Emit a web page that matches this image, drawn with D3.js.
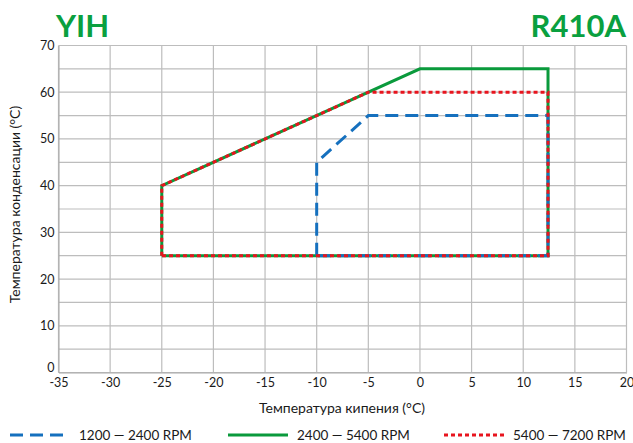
<!DOCTYPE html>
<html>
<head>
<meta charset="utf-8">
<script src="https://cdn.jsdelivr.net/npm/d3@7"></script>
<style>
body { margin: 0; background: #fff; }
text { font-family: Lato, "Open Sans", sans-serif; fill: #1a1a1a; }
</style>
</head>
<body>
<script>
// envelope data (evaporating temp, condensing temp)
var seriesNames = ["1200 — 2400 RPM", "2400 — 5400 RPM", "5400 — 7200 RPM"];
var seriesColors = ["#1570be", "#0a9a3c", "#e8141e"];
var lowRpm = [[-10, 25], [-10, 45], [-5, 55], [12.4, 55], [12.4, 25], [-10, 25]];
var midRpm = [[-25, 25], [-25, 40], [0, 65], [12.4, 65], [12.4, 25], [-25, 25]];
var highRpm = [[-25, 25], [-25, 40], [-5, 60], [12.4, 60], [12.4, 25], [-25, 25]];
var xTicks = [-35, -30, -25, -20, -15, -10, -5, 0, 5, 10, 15, 20];
var yTicks = [0, 10, 20, 30, 40, 50, 60, 70];
var yGrid = [5, 15, 25, 35, 45, 55, 65];

var W = 633, H = 443;
var margin = { top: 45, right: 7, bottom: 71, left: 58 };
var width = W - margin.left - margin.right;
var height = H - margin.top - margin.bottom;

var svg = d3.select("body").append("svg")
	.attr("width", W)
	.attr("height", H);

var g = svg.append("g")
	.attr("transform", "translate(" + margin.left + "," + margin.top + ")");

var x = d3.scaleLinear().domain([-35, 20]).range([0.5, width + 0.5]);
var y = d3.scaleLinear().domain([0, 70]).range([height + 0.5, 0.5]);

// grid
g.selectAll(".vgrid").data(xTicks).enter().append("line")
	.attr("x1", function(d) { return x(d); })
	.attr("x2", function(d) { return x(d); })
	.attr("y1", y(0)).attr("y2", y(70))
	.attr("stroke", "#bdbdbd").attr("stroke-width", 1.2);
g.selectAll(".hgrid").data(yTicks.concat(yGrid)).enter().append("line")
	.attr("y1", function(d) { return y(d); })
	.attr("y2", function(d) { return y(d); })
	.attr("x1", x(-35)).attr("x2", x(20))
	.attr("stroke", "#bdbdbd").attr("stroke-width", 1.2);

// axes (plain hyphen minus like the original)
var fmt = function(d) { return String(d); };
var xAxis = g.append("g")
	.attr("transform", "translate(0," + (height + 0.5) + ")")
	.call(d3.axisBottom(x).tickValues(xTicks).tickFormat(fmt).tickSize(0).tickPadding(6));
xAxis.select(".domain").attr("stroke", "#a8a8a8");
xAxis.selectAll("text").style("font-size", "12.5px").attr("font-family", null);

var yAxis = g.append("g")
	.attr("transform", "translate(0.5,0)")
	.call(d3.axisLeft(y).tickValues(yTicks).tickFormat(fmt).tickSize(0).tickPadding(4));
yAxis.select(".domain").attr("stroke", "#a8a8a8");
yAxis.selectAll("text").style("font-size", "12.5px").attr("font-family", null)
	.attr("dy", function(d) { return d === 0 ? "-0.05em" : "0.32em"; });

// envelope lines
var line = d3.line()
	.x(function(d) { return x(d[0]); })
	.y(function(d) { return y(d[1]); });

// drawn order: green solid, blue dashed, red dotted on top
var envelopes = [
	{ data: midRpm, color: seriesColors[1], dash: null },
	{ data: lowRpm, color: seriesColors[0], dash: "13,7" },
	{ data: highRpm, color: seriesColors[2], dash: "4,3" }
];
g.selectAll(".envelope").data(envelopes).enter().append("path")
	.attr("d", function(d) { return line(d.data); })
	.attr("fill", "none")
	.attr("stroke", function(d) { return d.color; })
	.attr("stroke-width", 3)
	.attr("stroke-dasharray", function(d) { return d.dash; });

// titles
svg.append("text")
	.attr("x", 56).attr("y", 37)
	.style("font-size", "31px").style("font-weight", "bold")
	.style("fill", "#0aa03f")
	.text("YIH");
svg.append("text")
	.attr("x", 626).attr("y", 37)
	.attr("text-anchor", "end")
	.style("font-size", "31px").style("font-weight", "bold")
	.style("fill", "#0aa03f")
	.text("R410A");

// axis titles
svg.append("text")
	.attr("x", margin.left + width / 2).attr("y", 413)
	.attr("text-anchor", "middle")
	.style("font-size", "14px")
	.text("Температура кипения (°C)");
svg.append("text")
	.attr("transform", "translate(20," + (margin.top + height / 2 - 4) + ") rotate(-90)")
	.attr("text-anchor", "middle")
	.style("font-size", "14px")
	.text("Температура конденсации (°C)");

// legend
var legendX = [10, 228, 444];
var legendDash = ["13,7", null, "4,3"];
var legend = svg.selectAll(".legend").data(seriesNames).enter().append("g")
	.attr("transform", function(d, i) { return "translate(" + legendX[i] + ",435)"; });
legend.append("line")
	.attr("x1", 0).attr("x2", 60)
	.attr("stroke", function(d, i) { return seriesColors[i]; })
	.attr("stroke-width", 3)
	.attr("stroke-dasharray", function(d, i) { return legendDash[i]; });
legend.append("text")
	.attr("x", 69).attr("y", 5)
	.style("font-size", "13.5px")
	.text(function(d) { return d; });
</script>
</body>
</html>
